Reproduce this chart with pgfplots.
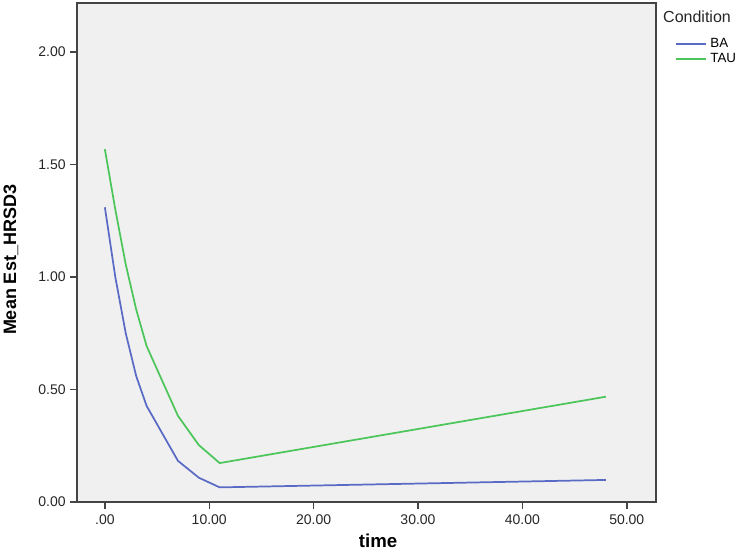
\documentclass[border=0pt]{standalone}
\usepackage{fontspec}
\setmainfont{Liberation Sans}
\usepackage{pgfplots}
\pgfplotsset{compat=1.18}

\definecolor{baBlue}{HTML}{5A6BC6}
\definecolor{tauGreen}{HTML}{4CC65A}
\definecolor{panel}{HTML}{F0F0F0}
\definecolor{frame}{HTML}{444444}

% time, mean estimate
\pgfplotstableread{
t    y
0    1.31
1    1.00
2    0.75
3    0.56
4    0.427
7    0.183
9    0.108
11   0.065
48   0.098
}\ba
\pgfplotstableread{
t    y
0    1.568
1    1.30
2    1.056
3    0.856
4    0.693
7    0.383
9    0.253
11   0.173
48   0.468
}\tau

\begin{document}
\begin{tikzpicture}
\begin{axis}[
    scale only axis,
    width=434.25pt,
    height=374.25pt,
    xmin=-2.67, xmax=52.8,
    ymin=0, ymax=2.218,
    axis background/.style={fill=panel},
    axis line style={frame, line width=1.1pt},
    xtick={0,10,20,30,40,50},
    xticklabels={.00,10.00,20.00,30.00,40.00,50.00},
    ytick={0,0.5,1,1.5,2},
    yticklabels={0.00,0.50,1.00,1.50,2.00},
    tick align=outside,
    xtick pos=bottom,
    ytick pos=left,
    major tick length=5pt,
    tick style={frame, line width=1.1pt},
    tick label style={font=\fontsize{10.5}{12}\selectfont, text=black!85},
    xticklabel style={yshift=-1pt},
    xlabel={time},
    ylabel={Mean Est\_HRSD3},
    xlabel style={font=\bfseries\fontsize{14}{16}\selectfont, at={(rel axis cs:0.52,-0.078)}, anchor=center},
    ylabel style={font=\bfseries\fontsize{13.5}{15}\selectfont, at={(rel axis cs:-0.114,0.485)}, anchor=center, rotate=0},
    legend style={at={(rel axis cs:1.026,0.937)}, anchor=north west, draw=none, fill=none,
        font=\fontsize{10}{11}\selectfont, row sep=0.8pt,
        nodes={inner sep=1pt, anchor=west}},
    legend image code/.code={\draw[#1] (0pt,0pt) -- (22pt,0pt); \path (24pt,0pt);},
    clip=false,
]
\addplot[baBlue, line width=1.3pt] table[x=t, y=y] {\ba};
\addplot[tauGreen, line width=1.3pt] table[x=t, y=y] {\tau};
\legend{BA, TAU}
\node[anchor=west, font=\fontsize{12}{14}\selectfont, text=black!85, inner sep=0pt] at (rel axis cs:1.012,0.972) {Condition};
\end{axis}
\pgfresetboundingbox
\path[use as bounding box] (-57.75pt,-37.5pt) rectangle (500.25pt,376.5pt);
\end{tikzpicture}
\end{document}
